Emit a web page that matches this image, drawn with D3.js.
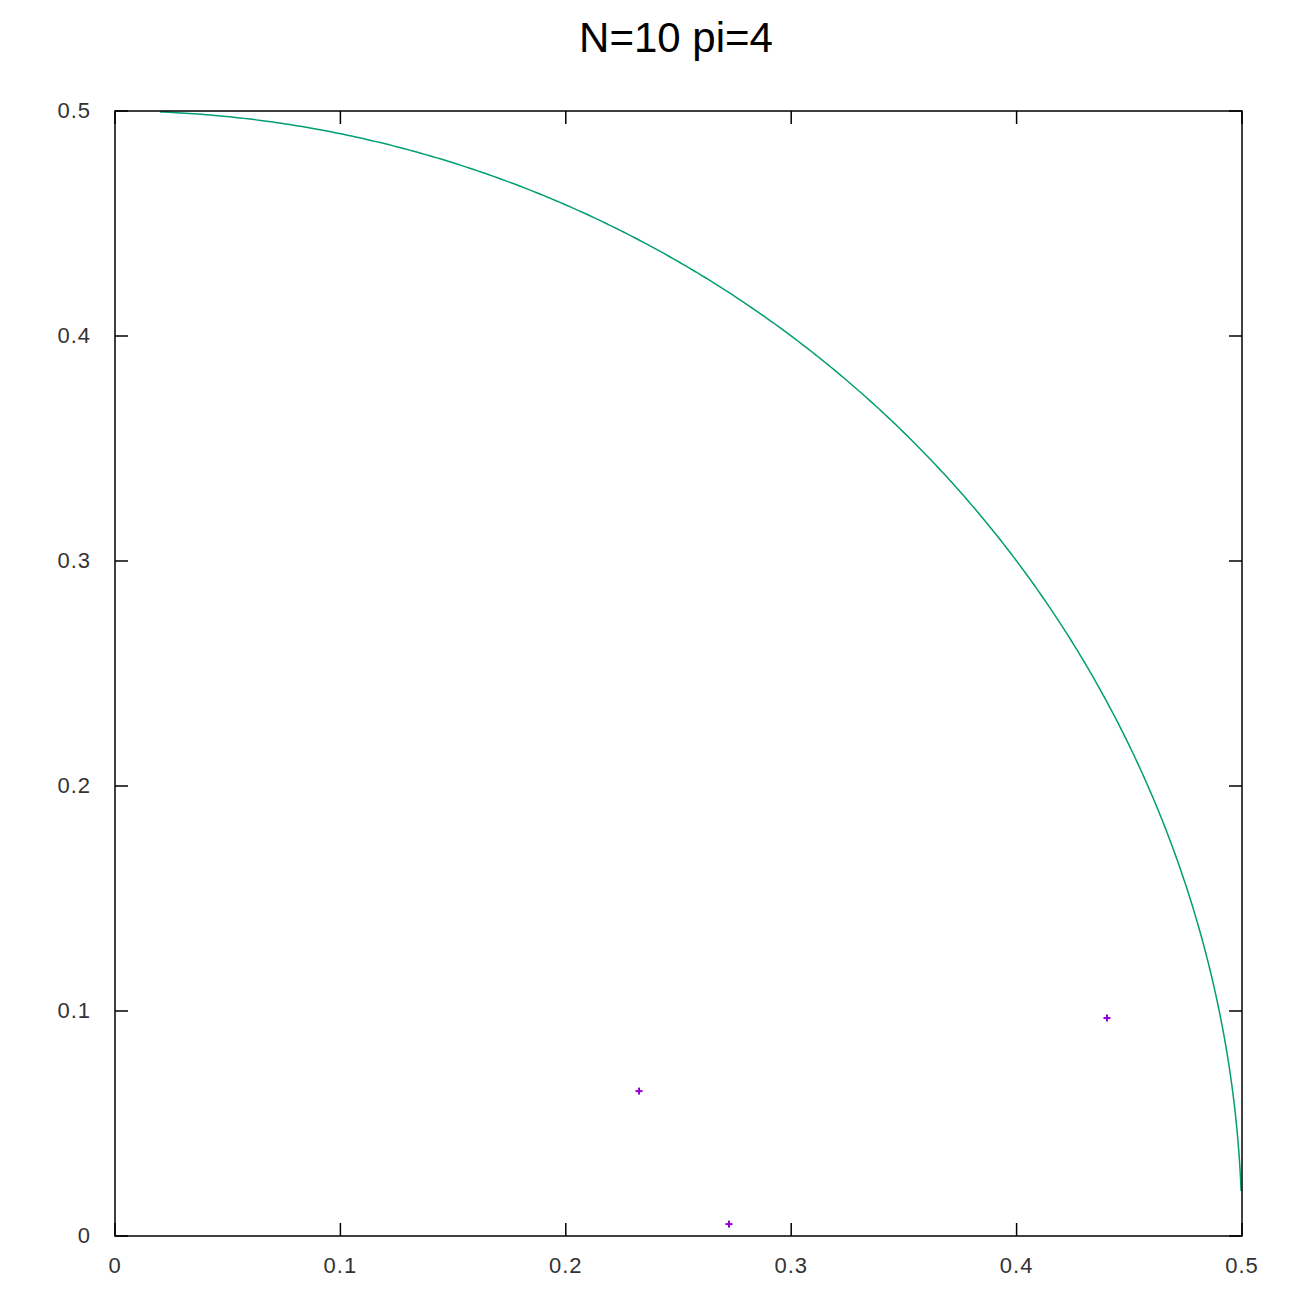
<!DOCTYPE html>
<html><head><meta charset="utf-8">
<script src="https://cdn.jsdelivr.net/npm/d3@7"></script>
<style>body{margin:0;background:#fff}svg{display:block}text{font-family:"Liberation Sans",Arial,sans-serif}</style>
</head><body>
<svg id="c" width="1300" height="1300"></svg>
<script>
const titleText = "N=10 pi=4";
const xTicks = [0, 0.1, 0.2, 0.3, 0.4, 0.5];
const yTicks = [0, 0.1, 0.2, 0.3, 0.4, 0.5];
const pointsX = [0.2325, 0.2724, 0.4401];
const pointsY = [0.0644, 0.0053, 0.0969];
const circleRadius = 0.5;
const arcXStart = 0.02;   // curve starts at this x
const arcYEnd = 0.02;     // curve ends at this y

const svg = d3.select("#c");
const m = {l:115, r:1242, t:111, b:1236};
const x = d3.scaleLinear().domain([0,0.5]).range([m.l, m.r]);
const y = d3.scaleLinear().domain([0,0.5]).range([m.b, m.t]);

svg.append("rect").attr("width",1300).attr("height",1300).attr("fill","#fff");

svg.append("text").attr("x", 676).attr("y", 52).attr("text-anchor","middle")
  .attr("font-size", 42).attr("fill","#000").text(titleText);

const fmt = d => d === 0 ? "0" : String(d);
const tl = 13;
const g = svg.append("g").attr("stroke","#000").attr("stroke-width",1.5);
xTicks.forEach(t => {
  g.append("line").attr("x1",x(t)).attr("x2",x(t)).attr("y1",m.b).attr("y2",m.b-tl);
  g.append("line").attr("x1",x(t)).attr("x2",x(t)).attr("y1",m.t).attr("y2",m.t+tl);
});
yTicks.forEach(t => {
  g.append("line").attr("y1",y(t)).attr("y2",y(t)).attr("x1",m.l).attr("x2",m.l+tl);
  g.append("line").attr("y1",y(t)).attr("y2",y(t)).attr("x1",m.r).attr("x2",m.r-tl);
});
svg.selectAll(".xl").data(xTicks).enter().append("text")
  .attr("x", d=>x(d)).attr("y", 1273).attr("text-anchor","middle")
  .attr("font-size",22).attr("letter-spacing",1).attr("fill","#333").text(fmt);
svg.selectAll(".yl").data(yTicks).enter().append("text")
  .attr("x", 91).attr("y", d=>y(d)+7).attr("text-anchor","end")
  .attr("font-size",22).attr("letter-spacing",1).attr("fill","#333").text(fmt);

// quarter circle curve x^2 + y^2 = r^2
const a0 = Math.acos(arcXStart/circleRadius), a1 = Math.asin(arcYEnd/circleRadius);
const curve = d3.range(0, 401).map(i => {
  const a = a0 + (a1 - a0) * i / 400;
  return [circleRadius*Math.cos(a), circleRadius*Math.sin(a)];
});
svg.append("path").datum(curve)
  .attr("d", d3.line().x(d=>x(d[0])).y(d=>y(d[1])))
  .attr("fill","none").attr("stroke","#009e73").attr("stroke-width",1.5);

// points as "+"
const pts = pointsX.map((v,i)=>[v, pointsY[i]]);
const pg = svg.append("g").attr("stroke","#9400d3").attr("stroke-width",2);
pts.forEach(p => {
  pg.append("line").attr("x1",x(p[0])-3.5).attr("x2",x(p[0])+3.5).attr("y1",y(p[1])).attr("y2",y(p[1]));
  pg.append("line").attr("x1",x(p[0])).attr("x2",x(p[0])).attr("y1",y(p[1])-3.5).attr("y2",y(p[1])+3.5);
});

svg.append("rect").attr("x",m.l).attr("y",m.t).attr("width",m.r-m.l).attr("height",m.b-m.t)
  .attr("fill","none").attr("stroke","#000").attr("stroke-width",1.5);
</script>
</body></html>
